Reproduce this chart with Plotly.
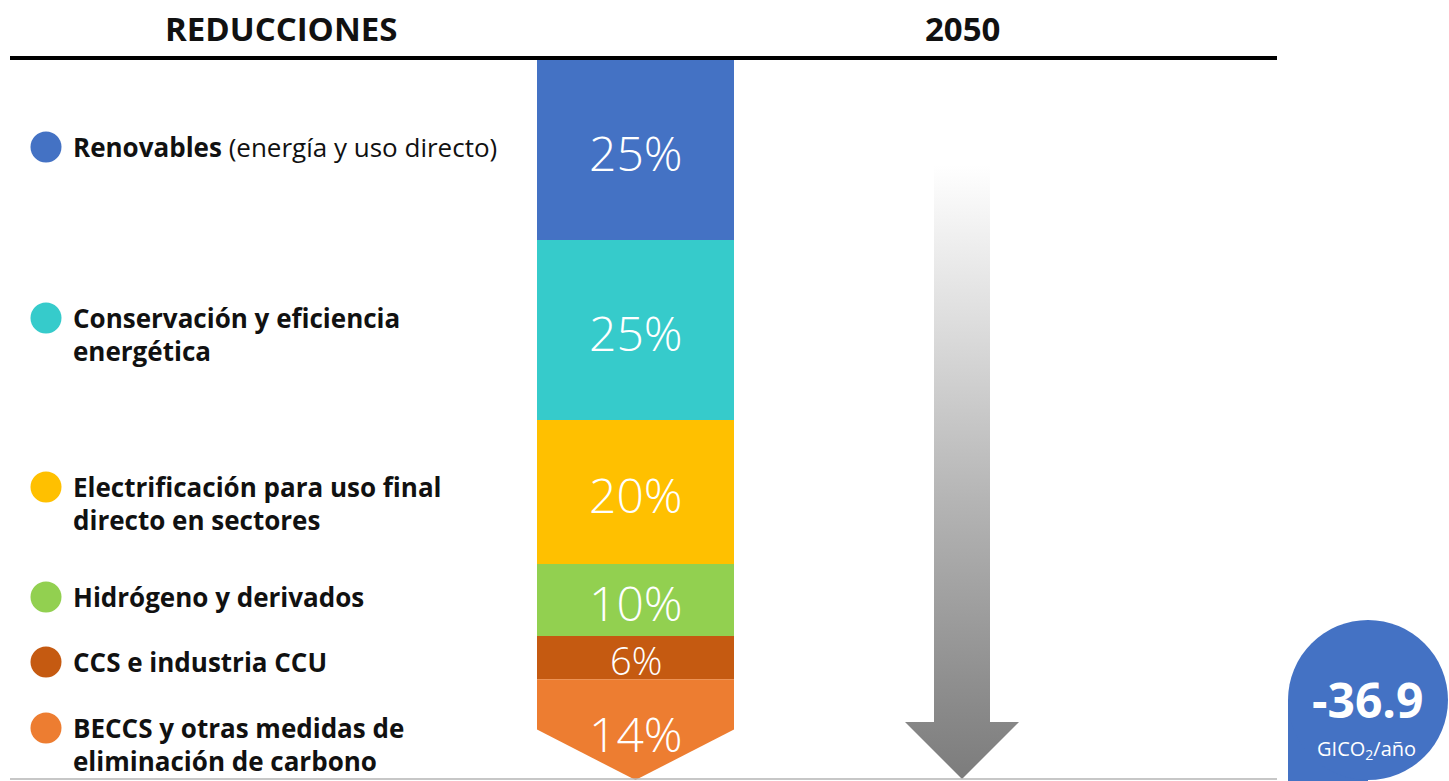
import numpy as np
import plotly.graph_objects as go

# --- data -------------------------------------------------------------
categories = [
    ["<b>Renovables</b> (energía y uso directo)"],
    ["<b>Conservación y eficiencia</b>", "<b>energética</b>"],
    ["<b>Electrificación para uso final</b>", "<b>directo en sectores</b>"],
    ["<b>Hidrógeno y derivados</b>"],
    ["<b>CCS e industria CCU</b>"],
    ["<b>BECCS y otras medidas de</b>", "<b>eliminación de carbono</b>"],
]
shares = [25, 25, 20, 10, 6, 14]
colors = ["#4472C4", "#36CBCB", "#FFC000", "#92D050", "#C55A11", "#ED7D31"]
total_reduction = -36.9
unit_label = "GICO<sub>2</sub>/año"
header_left = "REDUCCIONES"
header_right = "2050"

# --- geometry / style -------------------------------------------------
W, H = 1449, 781
BAR_X0, BAR_X1 = 537, 734
BAR_XC = (BAR_X0 + BAR_X1) / 2
TOP_PX, PX_PER_PCT = 60, 7.2          # percent axis: 0 at top of the bar
NOTCH = 7.0                            # depth of the chevron tip, in % units
FONT = "Open Sans"

y_lo = -TOP_PX / PX_PER_PCT
y_hi = (H - TOP_PX) / PX_PER_PCT

fig = go.Figure()

# stacked column built from cumulative shares
cum = np.concatenate([[0], np.cumsum(shares)])
n = len(shares)
for i in range(n):
    top, bot = cum[i], cum[i + 1]
    if i < n - 1:
        xs = [BAR_X0, BAR_X1, BAR_X1, BAR_X0, BAR_X0]
        ys = [top, top, bot, bot, top]
    else:
        sh = bot - NOTCH
        xs = [BAR_X0, BAR_X1, BAR_X1, BAR_XC, BAR_X0, BAR_X0]
        ys = [top, top, sh, bot, sh, top]
    fig.add_trace(go.Scatter(
        x=xs, y=ys, fill="toself", fillcolor=colors[i], mode="lines",
        line=dict(width=0, color=colors[i]), hoverinfo="skip", showlegend=False,
    ))
    size = 38 if shares[i] < 8 else 48
    fig.add_annotation(
        x=BAR_XC, y=(top + bot) / 2 + (0.6 if i == n - 1 else 0.3), xref="x", yref="y",
        text=f"{shares[i]}%", showarrow=False,
        font=dict(family=FONT, size=size, color="white", weight=300),
        xanchor="center", yanchor="middle",
    )

# gray downward arrow fading to white at its tail (pixel axis y2)
ax = [934, 990, 990, 1019, 962, 905, 934, 934]
ay = [165, 165, 722, 722, 779, 722, 722, 165]
fig.add_trace(go.Scatter(
    x=ax, y=ay, yaxis="y2", fill="toself", mode="lines",
    line=dict(width=0, color="rgba(0,0,0,0)"),
    fillgradient=dict(type="vertical",
                      colorscale=[[0, "#7c7c7c"], [0.12, "#8a8a8a"], [0.45, "#b4b4b4"],
                                  [0.75, "#dedede"], [1, "#ffffff"]]),
    hoverinfo="skip", showlegend=False,
))

# legend markers and labels (pixel axis y2)
label_y = [147, 318, 487, 597, 662, 728]
LINE_GAP = 33
fig.add_trace(go.Scatter(
    x=[46] * n, y=label_y, yaxis="y2", mode="markers",
    marker=dict(size=31, color=colors, line=dict(width=0)),
    hoverinfo="skip", showlegend=False,
))
for lines, y0 in zip(categories, label_y):
    for k, line in enumerate(lines):
        fig.add_annotation(
            x=71, y=y0 + k * LINE_GAP, xref="x", yref="y2", text=line,
            showarrow=False, xanchor="left", yanchor="middle",
            font=dict(family=FONT, size=26, color="#111111"),
        )

# headers and rules
for txt, xc in [(header_left, 281), (header_right, 962)]:
    fig.add_annotation(
        x=xc, y=28, xref="x", yref="y2", text=f"<b>{txt}</b>", showarrow=False,
        xanchor="center", yanchor="middle",
        font=dict(family=FONT, size=33, color="#111111"),
    )
fig.add_shape(type="line", xref="x", yref="y2", x0=10, x1=1277, y0=58, y1=58,
              line=dict(color="#000000", width=4))
fig.add_shape(type="line", xref="x", yref="y2", x0=10, x1=1277, y0=779, y1=779,
              line=dict(color="#b4b4b4", width=1.5))

# total callout: circle with a squared lower-left corner
fig.add_shape(type="rect", xref="x", yref="y2", x0=1288, x1=1368, y0=700, y1=782,
              fillcolor="#4472C4", line=dict(width=0), layer="above")
fig.add_shape(type="circle", xref="x", yref="y2", x0=1288, x1=1448, y0=620, y1=780,
              fillcolor="#4472C4", line=dict(width=0), layer="above")
fig.add_annotation(
    x=1367, y=699, xref="x", yref="y2", text=f"<b>{total_reduction:.1f}</b>",
    showarrow=False, xanchor="center", yanchor="middle",
    font=dict(family=FONT, size=48, color="white"),
)
fig.add_annotation(
    x=1366, y=749, xref="x", yref="y2", text=unit_label,
    showarrow=False, xanchor="center", yanchor="middle",
    font=dict(family=FONT, size=20, color="white"),
)

fig.update_layout(
    width=W, height=H, margin=dict(l=0, r=0, t=0, b=0),
    paper_bgcolor="white", plot_bgcolor="white",
    xaxis=dict(range=[0, W], visible=False, domain=[0, 1], fixedrange=True),
    yaxis=dict(range=[y_hi, y_lo], visible=False, domain=[0, 1], fixedrange=True),
    yaxis2=dict(range=[H, 0], visible=False, overlaying="y", fixedrange=True),
    showlegend=False,
)

fig.write_html("out.html", config={"displayModeBar": False})
